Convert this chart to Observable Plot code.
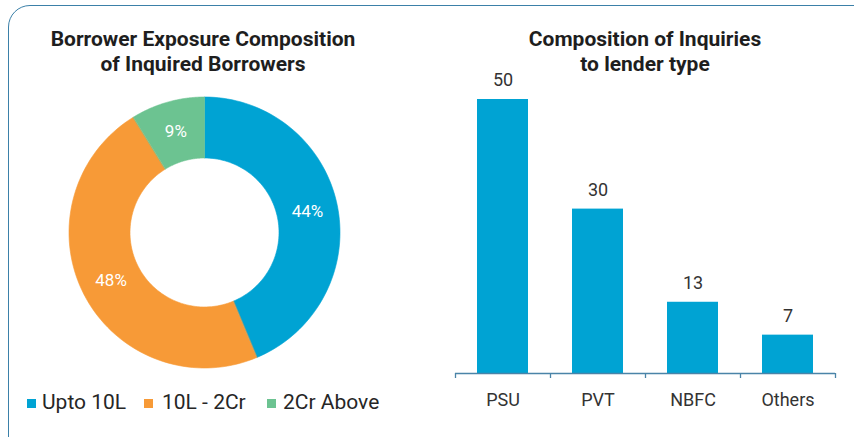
<!DOCTYPE html>
<html><head><meta charset="utf-8">
<script src="https://cdn.jsdelivr.net/npm/d3@7"></script>
<script src="https://cdn.jsdelivr.net/npm/@observablehq/plot@0.6"></script>
<style>
html,body{margin:0;padding:0;width:854px;height:437px;overflow:hidden;background:#fff;font-family:Roboto,sans-serif;}
#frame{position:absolute;left:8px;top:5px;width:880px;height:460px;border:1.5px solid #3b80a8;border-radius:22px;box-sizing:border-box;}
.title{position:absolute;font-weight:700;font-size:21px;line-height:25px;color:#1e1e1e;text-align:center;white-space:nowrap;}
#donut{position:absolute;left:64px;top:92px;}
#bars{position:absolute;left:440px;top:60px;}
.item{position:absolute;white-space:nowrap;font-size:21px;line-height:25px;color:#262626;top:390px;}
.sw{position:absolute;width:9px;height:9px;top:399px;}
</style></head><body>
<div id="frame"></div>
<div class="title" style="left:3px;width:400px;top:27px">Borrower Exposure Composition<br>of Inquired Borrowers</div>
<div class="title" style="left:445px;width:400px;top:27px">Composition of Inquiries<br>to lender type</div>
<div id="donut"></div>
<div id="bars"></div>
<div id="legend"></div>
<script>
// ---- data ----
const exposureCategories = ["Upto 10L", "10L - 2Cr", "2Cr Above"];
const exposureShares = [43.7, 47.5, 8.8];
const exposureColors = ["#00a3d3", "#f79a37", "#6cc391"];

const lenderTypes = ["PSU", "PVT", "NBFC", "Others"];
const inquiryCounts = [50, 30, 13, 7];
const barColor = "#00a3d3";
const axisColor = "#4a84a8";

// ---- donut ----
const R_OUT = 135.5, R_IN = 74.5, R_LAB = 105;
const total = d3.sum(exposureShares);
let acc = 0;
const slices = exposureCategories.map((name, i) => {
  const a0 = acc / total * 2 * Math.PI;
  acc += exposureShares[i];
  const a1 = acc / total * 2 * Math.PI;
  const n = 80;
  const pts = [];
  for (let k = 0; k <= n; k++) {
    const a = a0 + (a1 - a0) * k / n;
    pts.push({x: R_OUT * Math.sin(a), y: -R_OUT * Math.cos(a)});
  }
  for (let k = n; k >= 0; k--) {
    const a = a0 + (a1 - a0) * k / n;
    pts.push({x: R_IN * Math.sin(a), y: -R_IN * Math.cos(a)});
  }
  const mid = (a0 + a1) / 2;
  return {name, value: exposureShares[i], color: exposureColors[i], pts,
          lx: R_LAB * Math.sin(mid), ly: -R_LAB * Math.cos(mid)};
});

const donut = Plot.plot({
  width: 280, height: 280,
  marginTop: 0, marginRight: 0, marginBottom: 0, marginLeft: 0,
  x: {domain: [-140, 140], range: [0, 280], axis: null},
  y: {domain: [-140, 140], range: [0, 280], axis: null},
  style: {fontFamily: "Roboto, sans-serif", background: "transparent", overflow: "visible"},
  marks: [
    ...slices.map(s => Plot.line(s.pts, {x: "x", y: "y", fill: s.color, stroke: s.color, strokeWidth: 0.6, curve: "linear-closed"})),
    Plot.text(slices, {x: "lx", y: "ly", text: d => Math.round(d.value) + "%", fill: "white", fontSize: 17})
  ]
});
document.getElementById("donut").appendChild(donut);

// ---- legend ----
const legendText = [42, 162, 283];
const legendSw = [26.5, 144, 267];
const legend = document.getElementById("legend");
exposureCategories.forEach((c, i) => {
  const sw = document.createElement("div");
  sw.className = "sw"; sw.style.left = legendSw[i] + "px"; sw.style.background = exposureColors[i];
  legend.appendChild(sw);
  const t = document.createElement("div");
  t.className = "item"; t.style.left = legendText[i] + "px"; t.textContent = c;
  legend.appendChild(t);
});

// ---- bars ----
const barData = lenderTypes.map((l, i) => ({lender: l, count: inquiryCounts[i]}));
const W = 414, ML = 15, MR = 19;
const step = (W - ML - MR) / lenderTypes.length;
const bars = Plot.plot({
  width: W, height: 353,
  marginLeft: ML, marginRight: MR, marginTop: 39, marginBottom: 40,
  x: {domain: lenderTypes, paddingInner: 0.46, paddingOuter: 0.23},
  y: {domain: [0, 50], axis: null},
  style: {fontFamily: "Roboto, sans-serif", background: "transparent", overflow: "visible", color: "#333"},
  marks: [
    Plot.barY(barData, {x: "lender", y: "count", fill: barColor}),
    Plot.text(barData, {x: "lender", y: "count", text: d => String(d.count), dy: -19, fontSize: 18, fill: "#333"}),
    Plot.ruleY([0], {stroke: axisColor, strokeWidth: 1.3}),
    Plot.ruleX(lenderTypes, {x: d => d, y1: 0, y2: 0, insetBottom: -5, dx: -step / 2, stroke: axisColor, strokeWidth: 1.3}),
    Plot.ruleX(lenderTypes.slice(-1), {x: d => d, y1: 0, y2: 0, insetBottom: -5, dx: step / 2, stroke: axisColor, strokeWidth: 1.3}),
    Plot.axisX({tickSize: 0, tickPadding: 20, fontSize: 18, fill: "#333", label: null})
  ]
});
document.getElementById("bars").appendChild(bars);
</script>
</body></html>
